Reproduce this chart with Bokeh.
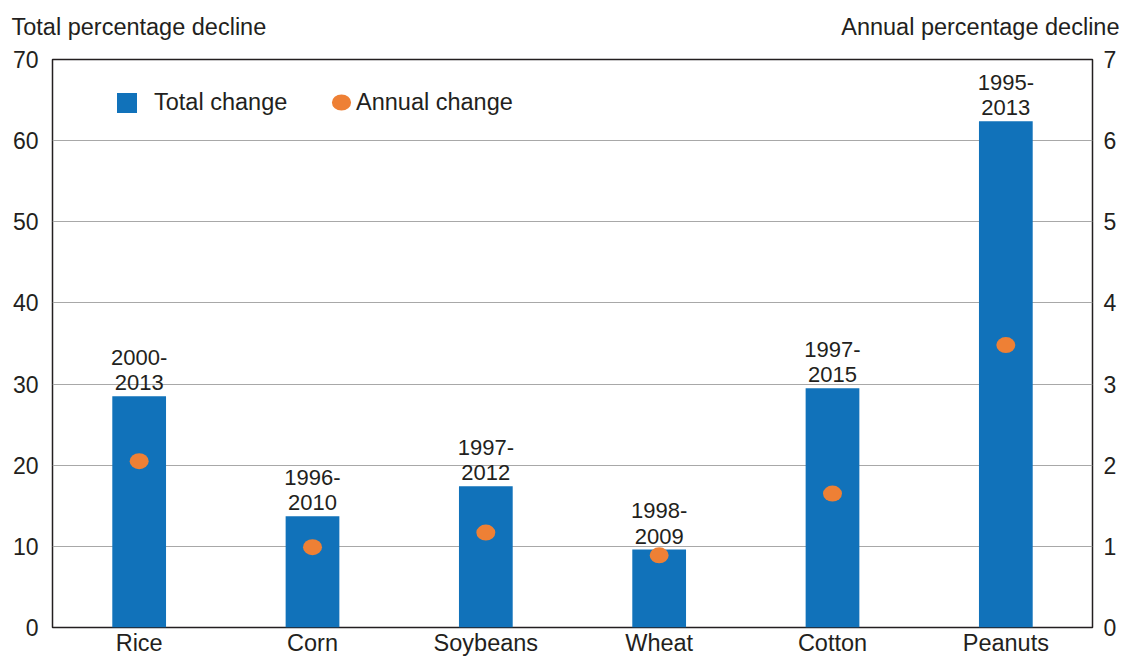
from bokeh.plotting import figure
from bokeh.layouts import column
from bokeh.models import (Range1d, LinearAxis, FixedTicker, Legend,
                          LegendItem, ColumnDataSource, FactorRange)
from bokeh.core.properties import value
from bokeh.embed import file_html
from bokeh.resources import INLINE

crops = ["Rice", "Corn", "Soybeans", "Wheat", "Cotton", "Peanuts"]
total_change = [28.5, 13.7, 17.4, 9.6, 29.5, 62.4]
annual_change = [2.05, 0.99, 1.17, 0.89, 1.65, 3.48]
periods = ["2000-\n2013", "1996-\n2010", "1997-\n2012", "1998-\n2009",
           "1997-\n2015", "1995-\n2013"]
left_ticks = [0, 10, 20, 30, 40, 50, 60, 70]
right_ticks = [0, 1, 2, 3, 4, 5, 6, 7]
left_title = "Total percentage decline"
right_title = "Annual percentage decline"

FONT = "Liberation Sans"
TEXT = "#231F20"
BLUE = "#1172BA"
ORANGE = "#EE8035"
GRID = "#A8A8A8"

W = 1122
HEAD_H = 45
FW, FH = 1040, 568

# ---- header with the two axis titles ----
head = figure(width=W, height=HEAD_H, x_range=Range1d(0, W),
              y_range=Range1d(0, HEAD_H), x_axis_type=None, y_axis_type=None,
              min_border=0, output_backend="svg", toolbar_location=None,
              title=None)
head.outline_line_color = None
head.grid.visible = False
tsrc = ColumnDataSource(dict(x=[11, W - 3], y=[19, 19],
                             t=[left_title, right_title],
                             a=["left", "right"]))
head.text(x="x", y="y", text="t", text_align="a", source=tsrc,
          text_baseline="alphabetic", text_font=value(FONT),
          text_font_size="23.5px", text_color=TEXT)

# ---- main chart ----
src = ColumnDataSource(dict(crop=crops, total=total_change,
                            annual=annual_change, period=periods))

p = figure(x_range=FactorRange(factors=crops), y_range=Range1d(0, 70),
           frame_width=FW, frame_height=FH,
           min_border_left=52, min_border_right=30, min_border_top=14,
           min_border_bottom=0, output_backend="svg", toolbar_location=None,
           title=None)
p.extra_y_ranges = {"annual": Range1d(0, 7)}

for f in (head, p):
    try:
        f.frame_align = False
    except Exception:
        pass

bars = p.vbar(x="crop", top="total", width=0.31, source=src,
              fill_color=BLUE, line_color=None)
dots = p.ellipse(x="crop", y="annual", width=19, height=16,
                 width_units="screen", height_units="screen", source=src,
                 fill_color=ORANGE, line_color=None, y_range_name="annual")
p.text(x="crop", y="total", text="period", source=src,
       text_align="center", text_baseline="bottom", y_offset=-1,
       text_font=value(FONT), text_font_size="22px", text_color=TEXT,
       text_line_height=1.02)

lt = FixedTicker(ticks=left_ticks)
p.yaxis.ticker = lt
p.ygrid.ticker = lt
p.ygrid.grid_line_color = GRID
p.ygrid.grid_line_width = 1
p.xgrid.visible = False

right = LinearAxis(y_range_name="annual", ticker=FixedTicker(ticks=right_ticks))
p.add_layout(right, "right")

for ax in [p.xaxis[0], p.yaxis[0], right]:
    ax.axis_line_color = None
    ax.major_tick_line_color = None
    ax.minor_tick_line_color = None
    ax.major_tick_out = 0
    ax.major_tick_in = 0
    ax.major_label_text_font = FONT
    ax.major_label_text_font_size = "23px"
    ax.major_label_text_color = TEXT
p.xaxis[0].major_label_text_font_size = "23.5px"
p.yaxis[0].major_label_standoff = 14
right.major_label_standoff = 11
p.xaxis[0].major_label_standoff = 2

p.outline_line_color = TEXT
p.outline_line_width = 1.5
p.outline_line_alpha = 1.0

leg1 = Legend(items=[LegendItem(label="Total change", renderers=[bars])],
              location=(62, FH - 58), orientation="horizontal",
              glyph_width=25, glyph_height=25, label_height=30,
              label_standoff=15, padding=0, margin=0, border_line_alpha=0,
              background_fill_alpha=0, label_text_font=FONT,
              label_text_font_size="23.5px", label_text_color=TEXT)
leg2 = Legend(items=[LegendItem(label="Annual change", renderers=[dots])],
              location=(277, FH - 58), orientation="horizontal",
              glyph_width=24, glyph_height=24, label_height=30,
              label_standoff=3, padding=0, margin=0, border_line_alpha=0,
              background_fill_alpha=0, label_text_font=FONT,
              label_text_font_size="23.5px", label_text_color=TEXT)
p.add_layout(leg1)
p.add_layout(leg2)

layout = column(head, p, spacing=0)
open("out.html", "w").write(file_html(layout, INLINE))
